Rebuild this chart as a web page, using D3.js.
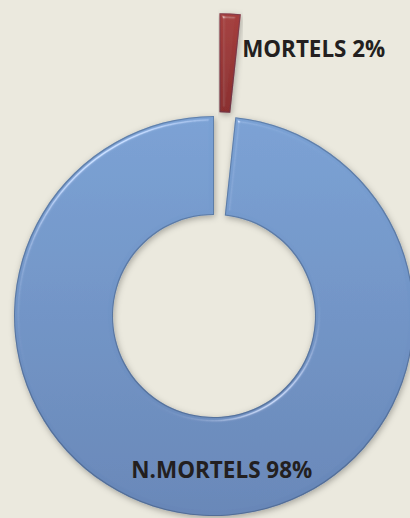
<!DOCTYPE html>
<html>
<head>
<meta charset="utf-8">
<script src="https://cdn.jsdelivr.net/npm/d3@7/dist/d3.min.js"></script>
<style>
  html, body { margin: 0; padding: 0; background: #EBE9DE; overflow: hidden; }
  svg { display: block; }
</style>
</head>
<body>
<script>
// ---- data ----
const categories = ["MORTELS", "N.MORTELS"];
const values = [1.7, 98.3];
const percentLabels = ["2%", "98%"];
const colorsTop = ["#A53E3D", "#7AA1D4"];
const colorsBottom = ["#8A2F2F", "#6786B7"];

const W = 410, H = 518;
const cx = 214, cy = 316, R = 200, r = 101;
const explode = [103, 0];

const svg = d3.select("body").append("svg").attr("width", W).attr("height", H);
svg.append("rect").attr("width", W).attr("height", H).attr("fill", "#EBE9DE");

const defs = svg.append("defs");
categories.forEach((c, i) => {
  const g = defs.append("linearGradient").attr("id", "grad" + i)
    .attr("x1", 0).attr("y1", 0).attr("x2", 0).attr("y2", 1);
  g.append("stop").attr("offset", "0%").attr("stop-color", colorsTop[i]);
  g.append("stop").attr("offset", "100%").attr("stop-color", colorsBottom[i]);
});

// bevel + shadow filter
const f = defs.append("filter").attr("id", "bevel")
  .attr("x", "-10%").attr("y", "-10%").attr("width", "120%").attr("height", "120%");
f.append("feGaussianBlur").attr("in", "SourceAlpha").attr("stdDeviation", 3).attr("result", "shBlur");
f.append("feOffset").attr("in", "shBlur").attr("dx", 1).attr("dy", 2).attr("result", "shOff");
f.append("feFlood").attr("flood-color", "#000").attr("flood-opacity", 0.3).attr("result", "shCol");
f.append("feComposite").attr("in", "shCol").attr("in2", "shOff").attr("operator", "in").attr("result", "shadow");
f.append("feGaussianBlur").attr("in", "SourceAlpha").attr("stdDeviation", 2.2).attr("result", "blur");
const spec = f.append("feSpecularLighting").attr("in", "blur").attr("surfaceScale", 4)
  .attr("specularConstant", 0.7).attr("specularExponent", 40)
  .attr("lighting-color", "#ffffff").attr("result", "spec");
spec.append("feDistantLight").attr("azimuth", 235).attr("elevation", 40);
f.append("feComposite").attr("in", "spec").attr("in2", "SourceAlpha").attr("operator", "in").attr("result", "specIn");
// inner dark edge
f.append("feMorphology").attr("in", "SourceAlpha").attr("operator", "erode").attr("radius", 1).attr("result", "eroded");
f.append("feComposite").attr("in", "SourceAlpha").attr("in2", "eroded").attr("operator", "out").attr("result", "edge");
f.append("feFlood").attr("flood-color", "#2E3F5C").attr("flood-opacity", 0.45).attr("result", "edgeCol");
f.append("feComposite").attr("in", "edgeCol").attr("in2", "edge").attr("operator", "in").attr("result", "edgeDark");
f.append("feComposite").attr("in", "SourceGraphic").attr("in2", "specIn")
  .attr("operator", "arithmetic").attr("k1", 0).attr("k2", 1).attr("k3", 0.6).attr("k4", 0).attr("result", "lit");
const m = f.append("feMerge");
m.append("feMergeNode").attr("in", "shadow");
m.append("feMergeNode").attr("in", "lit");
m.append("feMergeNode").attr("in", "edgeDark");

const pie = d3.pie().sort(null).value(d => d)(values);
const arc = d3.arc().innerRadius(r).outerRadius(R);

const g = svg.append("g").attr("transform", `translate(${cx},${cy})`);
pie.forEach((p, i) => {
  const mid = (p.startAngle + p.endAngle) / 2;
  const dx = Math.sin(mid) * explode[i], dy = -Math.cos(mid) * explode[i];
  const slice = g.append("g").attr("transform", `translate(${dx},${dy})`);
  slice.append("path").attr("d", arc(p))
    .attr("fill", `url(#grad${i})`)
    .attr("filter", "url(#bevel)");
});

// labels
const fontFam = "'Open Sans', 'Liberation Sans', sans-serif";
// MORTELS label: right of the exploded red slice
{
  const p = pie[0];
  const mid = (p.startAngle + p.endAngle) / 2;
  const ex = Math.sin(mid) * explode[0], ey = -Math.cos(mid) * explode[0];
  g.append("text")
    .attr("x", ex + Math.sin(p.endAngle) * R * 0.83 + 5)
    .attr("y", ey - Math.cos(p.endAngle) * R * 0.83 + 9)
    .attr("font-family", fontFam).attr("font-weight", 700).attr("font-size", 22.5)
    .attr("fill", "#231F20")
    .attr("textLength", 143).attr("lengthAdjust", "spacingAndGlyphs")
    .text(categories[0] + " " + percentLabels[0]);
}
// N.MORTELS label: inside the bottom of the ring
{
  const p = pie[1];
  const [lx, ly] = d3.arc().innerRadius(154).outerRadius(154).centroid(p);
  g.append("text")
    .attr("x", lx + 16).attr("y", ly + 8)
    .attr("text-anchor", "middle")
    .attr("font-family", fontFam).attr("font-weight", 700).attr("font-size", 22.5)
    .attr("fill", "#231F20")
    .attr("textLength", 181).attr("lengthAdjust", "spacingAndGlyphs")
    .text(categories[1] + " " + percentLabels[1]);
}
</script>
</body>
</html>
